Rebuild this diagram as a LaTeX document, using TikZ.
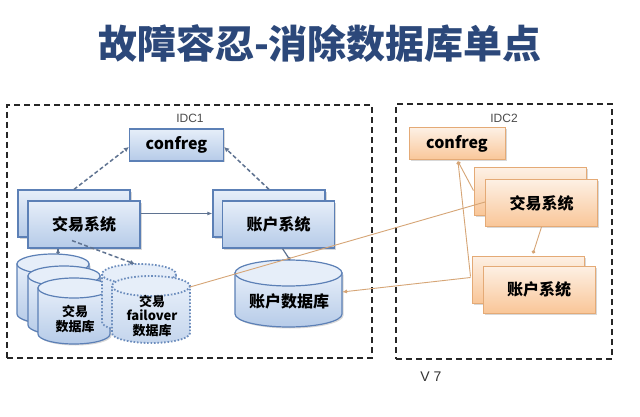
\documentclass[tikz,border=0pt]{standalone}
\usepackage{fontspec}
\setmainfont{Noto Sans CJK SC}
\newfontfamily\latinsans{Liberation Sans}
\usetikzlibrary{shadows,arrows.meta,calc}
\definecolor{titleblue}{RGB}{44,72,122}
\definecolor{bborder}{RGB}{92,128,182}
\definecolor{btop}{RGB}{230,238,249}
\definecolor{bbot}{RGB}{182,203,232}
\definecolor{oborder}{RGB}{228,170,118}
\definecolor{otop}{RGB}{253,240,228}
\definecolor{obot}{RGB}{249,198,152}
\definecolor{dline}{RGB}{95,115,145}
\definecolor{tline}{RGB}{214,165,118}
\newcommand{\dbcyl}[7]{%
  \path[#1] (#3,#5) -- (#3,#6) arc[start angle=180,end angle=0,x radius={(#4-#3)/2},y radius=#7] -- (#4,#5) -- cycle;
  \path[#2] ({(#3+#4)/2},#5) ellipse[x radius={(#4-#3)/2},y radius=#7];
}
\begin{document}
\begin{tikzpicture}[x=1pt,y=-1pt,
  shadowed/.style={drop shadow={opacity=0.3,shadow xshift=1.5pt,shadow yshift=-1.5pt}},
  bluebox/.style={draw=bborder,line width=1.2pt,top color=btop,bottom color=bbot,shadowed,inner sep=0pt,
     font=\bfseries\fontsize{16}{18}\selectfont},
  orangebox/.style={draw=oborder,line width=1pt,top color=otop,bottom color=obot,shadowed,inner sep=0pt,
     font=\bfseries\fontsize{16}{18}\selectfont},
  sysbox/.style={minimum width=112,minimum height=47},
  cfbox/.style={minimum width=94,minimum height=32},
  idc/.style={draw=black!85,line width=1.6pt,dash pattern=on 6pt off 4pt,inner sep=0pt},
  idclabel/.style={font=\latinsans\fontsize{12}{14}\selectfont,text=black!70},
  cylbody/.style={draw=bborder,line width=1.2pt,top color=btop,bottom color=bbot,shadowed},
  cyltop/.style={draw=bborder,line width=1.2pt,fill=btop},
  fobody/.style={draw=bborder!90,line width=1.8pt,dash pattern=on 1.6pt off 1.8pt,top color=btop,bottom color=bbot!80!white},
  fotop/.style={draw=bborder!90,line width=1.8pt,dash pattern=on 1.6pt off 1.8pt,fill=btop},
  dbtext/.style={font=\bfseries\fontsize{13}{15.5}\selectfont,align=center},
  dconn/.style={draw=dline,line width=1.5pt,dash pattern=on 4pt off 2.5pt},
  sconn/.style={draw=dline,line width=1.2pt},
  tconn/.style={draw=tline,line width=0.9pt}
]
\useasboundingbox (0,0) rectangle (640,417);
\fill[white] (0,0) rectangle (640,417);

% title
\node[text=titleblue,font=\bfseries\fontsize{39}{42}\selectfont] (title) at (320,44) {故障容忍-消除数据库单点};

% IDC frames
\node[idc,minimum width=365,minimum height=253] (idc1) at (189.5,231.5) {};
\node[idc,minimum width=216,minimum height=255] (idc2) at (504,231.5) {};
\node[idclabel] (idc1lbl) at (190,118) {IDC1};
\node[idclabel] (idc2lbl) at (504,118) {IDC2};
\node[font=\latinsans\fontsize{14}{16}\selectfont,text=black!80] (ver) at (431,377) {V 7};

% trade databases (stack)
\dbcyl{cylbody}{cyltop}{17}{89}{264}{314}{10}
\dbcyl{cylbody}{cyltop}{28}{100}{276}{325}{10}
\dbcyl{cylbody}{cyltop}{38}{110}{288}{334}{10}
\node[dbtext] (jydb) at (75,319) {交易\\数据库};
% failover databases
\dbcyl{fobody}{fotop}{102}{176}{274}{322}{10}
\dbcyl{fobody}{fotop}{112}{190}{286}{333}{10}
\node[dbtext,font=\bfseries\fontsize{13}{14.5}\selectfont] (fodb) at (152,316) {交易\\failover\\数据库};
% account database
\dbcyl{cylbody}{cyltop}{235}{342}{273}{314}{13}
\node[font=\bfseries\fontsize{16}{18}\selectfont] (zhdb) at (289,301) {账户数据库};

\coordinate (jydbtop) at (58,254);
\coordinate (fotopc) at (135,264);
\coordinate (foeast) at (190,287);
\coordinate (zhdbtop) at (290,260);
\coordinate (zhdbeast) at (342,292);

% IDC1 boxes
\node[bluebox,cfbox] (cf1) at (176.5,145) {confreg};
\node[bluebox,sysbox] (jy1b) at (74,213.5) {};
\node[bluebox,sysbox] (jy1f) at (84,224.5) {交易系统};
\node[bluebox,sysbox] (zh1b) at (269,213.5) {};
\node[bluebox,sysbox] (zh1f) at (278.5,224.5) {账户系统};

% IDC2 boxes
\node[orangebox,cfbox,minimum width=96] (cf2) at (457,144) {confreg};
\node[orangebox,sysbox] (jy2b) at (530,191.5) {};
\node[orangebox,sysbox] (jy2f) at (541.5,203) {交易系统};
\node[orangebox,sysbox] (zh2b) at (528,279.5) {};
\node[orangebox,sysbox] (zh2f) at (539,289.5) {账户系统};

% IDC1 connectors
\draw[dconn,-{Latex[length=5pt,width=5pt]}] (jy1b.north) -- ($(cf1.west)+(0,2)$);
\draw[dconn,-{Latex[length=5pt,width=5pt]}] (zh1b.north) -- ($(cf1.east)+(0,2)$);
\draw[sconn,-{Latex[length=5pt,width=4pt]}] (jy1f.east |- zh1b.west) -- (zh1b.west);
\draw[sconn,-{Circle[length=3.5pt]}] ($(jy1f.south)+(-26,0)$) -- (jydbtop);
\draw[dconn,-{Latex[length=5pt,width=5pt]}] ($(jy1f.south)+(-12,-8)$) -- (fotopc);
\draw[sconn,-{Circle[length=3.5pt]}] ($(zh1f.south)+(4,0)$) -- (zhdbtop);

% IDC2 connectors
\draw[tconn,{Circle[length=3.5pt]}-] ($(cf2.south)+(1,1)$) -- ($(jy2b.west)+(0,-1)$);
\draw[tconn,{Circle[length=3.5pt]}-] ($(cf2.south)+(1,1)$) -- ($(zh2b.west)+(-1,-3)$);
\draw[tconn,-{Circle[length=3.5pt]}] ($(jy2f.south)+(0,0)$) -- ($(zh2b.north)+(5,-2)$);
\draw[tconn] ($(jy2f.west)+(0,-1)$) -- (foeast);
\draw[tconn,-{Latex[length=5pt,width=4pt]}] ($(zh2b.west)+(-1,-2)$) -- (zhdbeast);
\end{tikzpicture}
\end{document}
